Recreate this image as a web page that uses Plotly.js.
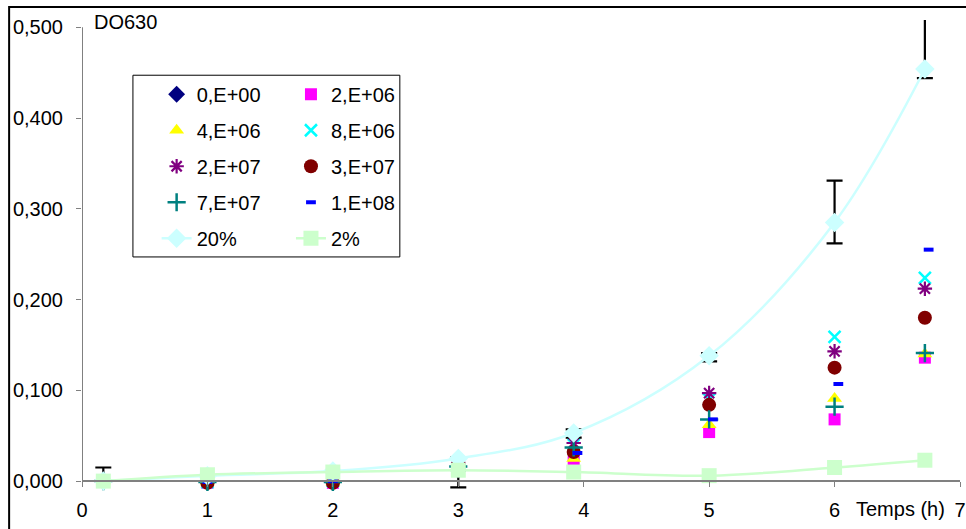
<!DOCTYPE html>
<html>
<head>
<meta charset="utf-8">
<script src="https://cdn.plot.ly/plotly-3.0.1.min.js"></script>
<style>html,body{margin:0;padding:0;background:#fff;}#chart{width:966px;height:529px;}</style>
</head>
<body>
<div id="chart"></div>
<script>
// Time (h)
var times = [0.17, 1, 2, 3, 3.92, 5, 6, 6.72];
var timesDash = [0.17, 1, 2, 3, 3.95, 5.03, 6.03, 6.75];

// DO630 per inoculum
var s0e00 = [0.000, -0.001, -0.001, 0.012, null, null, null, null];
var s2e06 = [0.000, -0.002, -0.002, 0.015, 0.021, 0.054, 0.068, 0.136];
var s4e06 = [0.000, -0.001, -0.001, 0.015, 0.025, 0.062, 0.091, 0.140];
var s8e06 = [0.000, -0.001, 0.000, 0.018, 0.040, 0.090, 0.159, 0.224];
var s2e07 = [0.000, -0.001, -0.001, 0.020, 0.042, 0.097, 0.143, 0.212];
var s3e07 = [0.000, -0.002, -0.002, 0.018, 0.032, 0.084, 0.125, 0.180];
var s7e07 = [0.000, -0.001, -0.001, 0.016, 0.037, 0.068, 0.082, 0.141];
var s1e08 = [0.000, -0.001, 0.000, 0.016, 0.031, 0.068, 0.107, 0.255];

// Controls
var c20 = [0.000, 0.006, 0.011, 0.025, 0.053, 0.138, 0.285, 0.454];
var c20ErrPlus = [0.015, 0, 0, 0.001, 0.004, 0.003, 0.046, 0.060];
var c20ErrMinus = [0, 0, 0, 0.032, 0.005, 0.006, 0.023, 0.010];
var c2 = [0.000, 0.007, 0.010, 0.012, 0.010, 0.006, 0.015, 0.023];

var yTicks = [0, 0.1, 0.2, 0.3, 0.4, 0.5];
var xTicks = [0, 1, 2, 3, 4, 5, 6, 7];
var yRange = [-0.012, 0.508];

var FONT = 'Arial, "Liberation Sans", sans-serif';

function mk(name, y, symbol, color, opts, legend, group, x) {
  var marker = {symbol: symbol, size: opts.size || 11, color: color};
  if (opts.open) {
    marker.line = {color: color, width: opts.lw || 2};
  }
  return {
    type: 'scatter', mode: 'markers', name: name, x: x || times, y: y,
    marker: marker, cliponaxis: false, legend: legend, legendgroup: group
  };
}

var traces = [
  mk('0,E+00', s0e00, 'diamond', '#000080', {size: 13}, 'legend', 'g1'),
  mk('2,E+06', s2e06, 'square', '#ff00ff', {size: 12}, 'legend2', 'g2'),
  mk('4,E+06', s4e06, 'triangle-up', '#ffff00', {size: 13}, 'legend', 'g3'),
  mk('8,E+06', s8e06, 'x-thin-open', '#00ffff', {size: 12, open: true, lw: 2.5}, 'legend2', 'g4'),
  mk('2,E+07', s2e07, 'asterisk-open', '#800080', {size: 12, open: true, lw: 2.2}, 'legend', 'g5'),
  mk('3,E+07', s3e07, 'circle', '#800000', {size: 14}, 'legend2', 'g6'),
  mk('7,E+07', s7e07, 'cross-thin-open', '#008080', {size: 13, open: true, lw: 2.5}, 'legend', 'g7'),
  mk('1,E+08', s1e08, 'line-ew-open', '#0000ff', {size: 7, open: true, lw: 4}, 'legend2', 'g8', timesDash),
  {
    type: 'scatter', mode: 'lines+markers', name: '20%', x: times, y: c20,
    line: {color: '#ccffff', width: 2.5, shape: 'spline', smoothing: 1},
    marker: {symbol: 'diamond', size: 15, color: '#ccffff'},
    error_y: {type: 'data', symmetric: false, array: c20ErrPlus, arrayminus: c20ErrMinus,
              color: '#000000', thickness: 2.2, width: 8},
    cliponaxis: false, legend: 'legend', legendgroup: 'g9'
  },
  {
    type: 'scatter', mode: 'lines+markers', name: '2%', x: times, y: c2,
    line: {color: '#ccffcc', width: 2.5, shape: 'spline', smoothing: 1},
    marker: {symbol: 'square', size: 15, color: '#ccffcc'},
    cliponaxis: false, legend: 'legend2', legendgroup: 'g10'
  }
];

var legendCommon = {
  font: {family: FONT, size: 20, color: '#000'},
  bgcolor: 'rgba(0,0,0,0)', borderwidth: 0,
  traceorder: 'grouped', tracegroupgap: 7,
  xanchor: 'left', yanchor: 'top', orientation: 'v'
};

var layout = {
  width: 966, height: 529,
  margin: {l: 82, r: 6, t: 20, b: 37},
  paper_bgcolor: '#ffffff', plot_bgcolor: '#ffffff',
  separators: ',.',
  font: {family: FONT, size: 20, color: '#000'},
  showlegend: true,
  legend: Object.assign({}, legendCommon, {x: 0.085, y: 0.884}),
  legend2: Object.assign({}, legendCommon, {x: 0.238, y: 0.884}),
  xaxis: {
    range: [0, 7], tickvals: xTicks, ticktext: xTicks.map(String),
    anchor: 'free', position: 0.012 / 0.52,
    showgrid: false, zeroline: false, showline: true, linecolor: '#808080', linewidth: 2,
    ticks: 'outside', ticklen: 5, tickcolor: '#808080', tickwidth: 1,
    ticklabeloverflow: 'allow', ticklabelstandoff: 6,
    tickfont: {family: FONT, size: 20, color: '#000'}, fixedrange: true
  },
  yaxis: {
    range: yRange, tickvals: yTicks, tickformat: '.3f',
    showgrid: false, zeroline: false, showline: false,
    ticks: 'outside', ticklen: 5, tickcolor: '#808080', tickwidth: 1, ticklabelstandoff: 9,
    tickfont: {family: FONT, size: 20, color: '#000'}, fixedrange: true
  },
  annotations: [
    {xref: 'paper', yref: 'paper', x: 0.011, y: 0.995, xanchor: 'left', yanchor: 'middle',
     text: 'DO630', showarrow: false, font: {family: FONT, size: 20, color: '#000'}},
    {xref: 'paper', yref: 'paper', x: 0.932, y: -0.036, xanchor: 'center', yanchor: 'middle',
     text: 'Temps (h)', showarrow: false, font: {family: FONT, size: 20, color: '#000'}}
  ],
  shapes: [
    {type: 'line', xref: 'x', yref: 'y', x0: xTicks[0], x1: xTicks[0],
     y0: yTicks[0], y1: yTicks[yTicks.length - 1], line: {color: '#808080', width: 2}},
    {type: 'rect', xref: 'paper', yref: 'paper', x0: -0.083, x1: 1.02, y0: -0.2, y1: 1.0275,
     line: {color: '#000', width: 2}, fillcolor: 'rgba(0,0,0,0)', layer: 'below'},
    {type: 'rect', xref: 'paper', yref: 'paper', x0: 0.058, x1: 0.362, y0: 0.498, y1: 0.883,
     line: {color: '#000', width: 1}, fillcolor: 'rgba(0,0,0,0)', layer: 'below'}
  ]
};

Plotly.newPlot('chart', traces, layout, {displayModeBar: false, staticPlot: true});
</script>
</body>
</html>
